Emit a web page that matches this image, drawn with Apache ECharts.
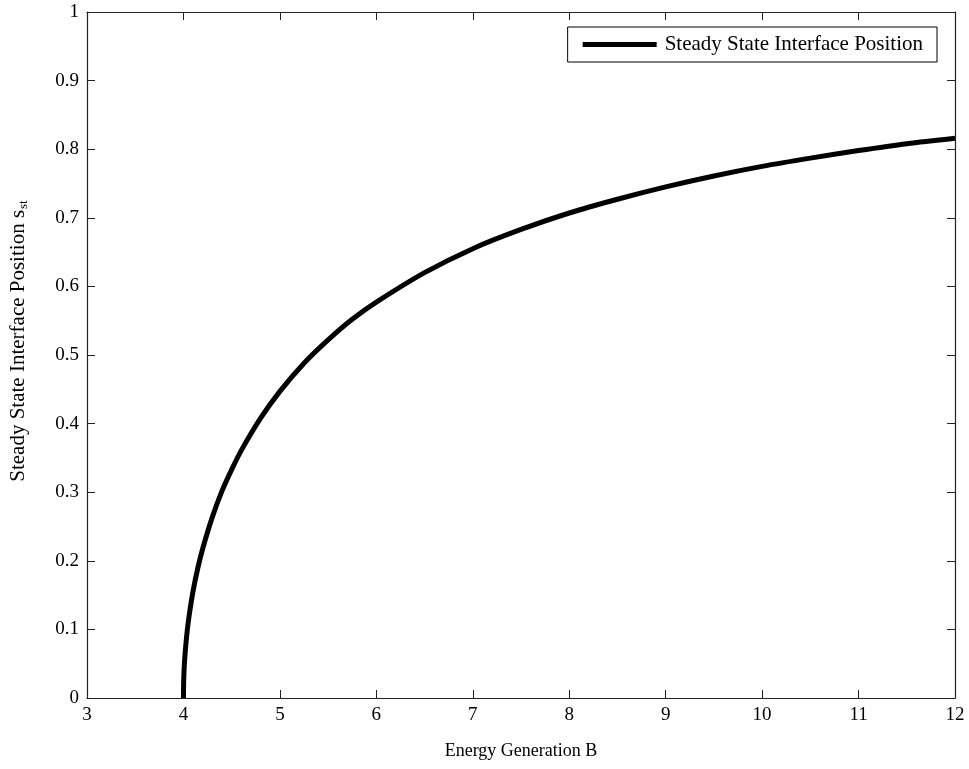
<!DOCTYPE html>
<html>
<head>
<meta charset="utf-8">
<script src="https://cdn.jsdelivr.net/npm/echarts@6/dist/echarts.min.js"></script>
<style>
  html, body { margin: 0; padding: 0; background: #fff; }
  #chart { width: 969px; height: 769px; }
</style>
</head>
<body>
<div id="chart"></div>
<script>
// Energy generation B values and the steady state interface position s_st
const energyB = [4.0, 4.002, 4.005, 4.01, 4.02, 4.04, 4.06, 4.1, 4.15, 4.2, 4.3, 4.4, 4.5, 4.6, 4.8,
  5.0, 5.25, 5.5, 5.75, 6.0, 6.5, 7.0, 7.5, 8.0, 8.5, 9.0, 9.5, 10.0, 10.5, 11.0, 11.5, 12.0];
const interfacePos = [0, 0.022, 0.035, 0.05, 0.07, 0.099, 0.121, 0.156, 0.19, 0.218, 0.264, 0.302, 0.333, 0.361, 0.408,
  0.447, 0.488, 0.522, 0.552, 0.577, 0.620, 0.655, 0.683, 0.707, 0.727, 0.745, 0.761, 0.775, 0.787, 0.798, 0.808, 0.816];
const xTicks = [3, 4, 5, 6, 7, 8, 9, 10, 11, 12];
const yTicks = [0, 0.1, 0.2, 0.3, 0.4, 0.5, 0.6, 0.7, 0.8, 0.9, 1];
const seriesName = 'Steady State Interface Position';

const font = 'Liberation Serif';
const axisColor = '#222';

const chart = echarts.init(document.getElementById('chart'), null, { renderer: 'canvas' });

const baseAxis = {
  type: 'value',
  axisLine: { show: true, onZero: false, lineStyle: { color: axisColor, width: 1.2 } },
  axisTick: { show: true, inside: true, length: 8, lineStyle: { color: axisColor, width: 1 } },
  splitLine: { show: false },
  axisLabel: { color: '#000', fontFamily: font, fontSize: 19 }
};

chart.setOption({
  animation: false,
  backgroundColor: '#fff',
  grid: { left: 86, right: 14, top: 12, bottom: 71, containLabel: false },
  legend: {
    data: [seriesName],
    right: 32,
    top: 27,
    orient: 'vertical',
    backgroundColor: '#fff',
    borderColor: '#000',
    borderWidth: 1,
    borderRadius: 0,
    padding: [7, 14, 7, 15],
    icon: 'rect',
    itemWidth: 74,
    itemHeight: 5,
    textStyle: { fontFamily: font, fontSize: 21, color: '#000', padding: [0, 0, 0, 3] }
  },
  xAxis: [
    Object.assign({}, baseAxis, {
      min: xTicks[0], max: xTicks[xTicks.length - 1], interval: 1,
      name: 'Energy Generation B',
      nameLocation: 'middle',
      nameGap: 44,
      nameTextStyle: { fontFamily: font, fontSize: 18, color: '#000' },
      axisLabel: Object.assign({}, baseAxis.axisLabel, { margin: 8 })
    }),
    Object.assign({}, baseAxis, {
      position: 'top',
      min: xTicks[0], max: xTicks[xTicks.length - 1], interval: 1,
      axisLabel: { show: false }
    })
  ],
  yAxis: [
    Object.assign({}, baseAxis, {
      min: yTicks[0], max: yTicks[yTicks.length - 1], interval: 0.1,
      name: 'Steady State Interface Position s{sub|st}',
      nameLocation: 'middle',
      nameRotate: 90,
      nameGap: 57,
      nameTextStyle: {
        fontFamily: font, fontSize: 21, color: '#000',
        padding: [0, 0, 0, 28],
        rich: { sub: { fontFamily: font, fontSize: 13, color: '#000', verticalAlign: 'bottom', padding: [10, 0, 0, 1] } }
      },
      axisLabel: Object.assign({}, baseAxis.axisLabel, {
        margin: 8,
        formatter: v => (Math.round(v * 10) / 10).toString()
      })
    }),
    Object.assign({}, baseAxis, {
      position: 'right',
      min: yTicks[0], max: yTicks[yTicks.length - 1], interval: 0.1,
      axisLabel: { show: false }
    })
  ],
  series: [{
    name: seriesName,
    type: 'line',
    xAxisIndex: 0,
    yAxisIndex: 0,
    data: energyB.map((b, i) => [b, interfacePos[i]]),
    smooth: 0.3,
    showSymbol: false,
    symbol: 'none',
    lineStyle: { color: '#000', width: 5 },
    itemStyle: { color: '#000' }
  }]
});
</script>
</body>
</html>
